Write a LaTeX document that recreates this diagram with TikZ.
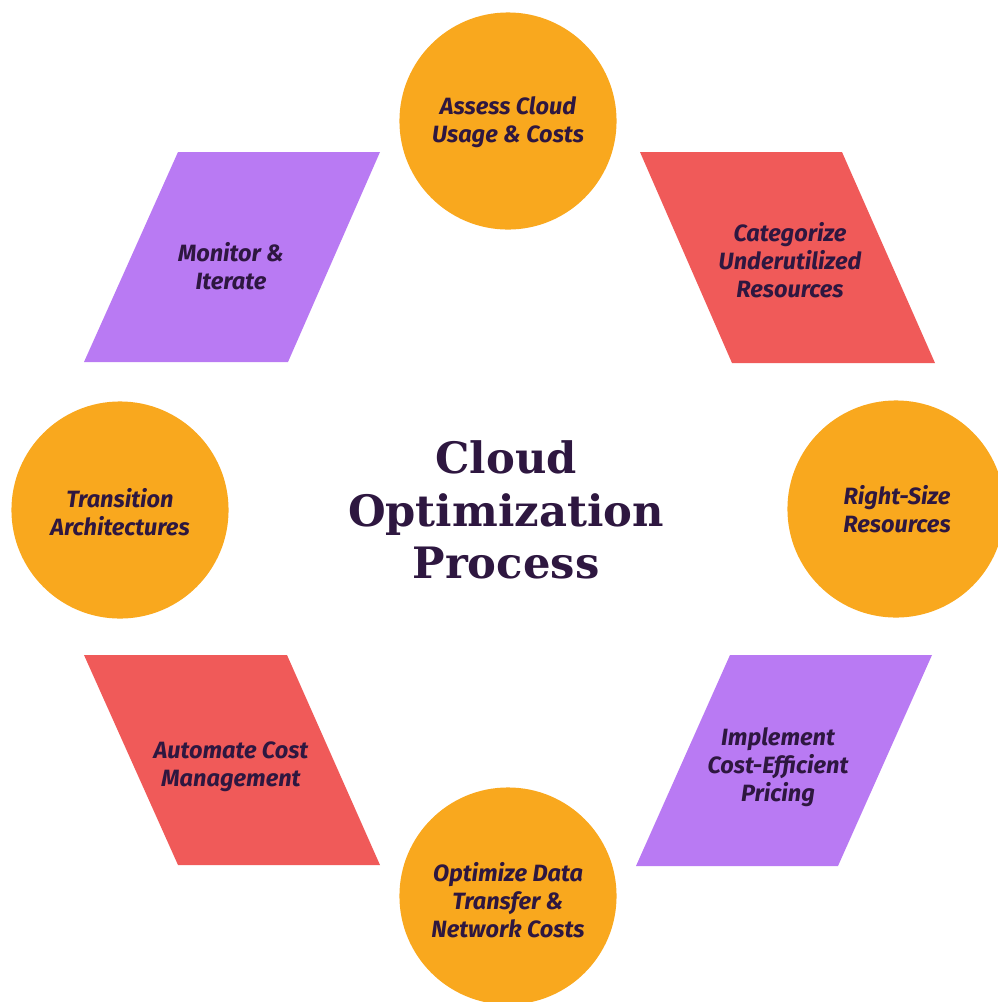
\documentclass[tikz,border=0pt]{standalone}
\usepackage{fontspec}
\setmainfont{Fira Sans}
\newfontfamily\titlefont{DejaVu Serif}
\definecolor{stageorange}{HTML}{F9A81E}
\definecolor{stagered}{HTML}{F05A59}
\definecolor{stagepurple}{HTML}{B97AF3}
\definecolor{ink}{HTML}{2E1740}

\begin{document}
\begin{tikzpicture}[x=0.01cm, y=-0.01cm,
  stagecirc/.style={circle, fill=stageorange, minimum size=2.17cm, inner sep=0pt},
  stagetext/.style={text=ink, align=center, font=\bfseries\itshape\fontsize{6.7}{7.9}\selectfont}]
\useasboundingbox (0,0) rectangle (998,1002);

\node[stagecirc] (assess) at (508,121) {};
\node[stagecirc] (rightsize) at (896,509) {};
\node[stagecirc] (optimize) at (508,896) {};
\node[stagecirc] (transition) at (120,510) {};

\fill[stagepurple] (178,152) -- (380,152) -- (288,362) -- (84,362) -- cycle;
\fill[stagered] (640,152) -- (842,152) -- (935,363) -- (732,363) -- cycle;
\fill[stagepurple] (730,655) -- (932,655) -- (838,866) -- (636,866) -- cycle;
\fill[stagered] (84,655) -- (287,655) -- (380,865) -- (178,865) -- cycle;

\node[stagetext] (assesstxt) at (508,122) {Assess Cloud\\Usage \& Costs};
\node[stagetext] (categorize) at (790,260) {Categorize\\Underutilized\\Resources};
\node[stagetext] (rightsizetxt) at (897,509) {Right-Size\\Resources};
\node[stagetext] (implement) at (778,767) {Implement\\Cost-Efficient\\Pricing};
\node[stagetext] (optimizetxt) at (508,900) {Optimize Data\\Transfer \&\\Network Costs};
\node[stagetext] (automate) at (231,767) {Automate Cost\\Management};
\node[stagetext] (transitiontxt) at (120,512) {Transition\\Architectures};
\node[stagetext] (monitor) at (231,266) {Monitor \&\\Iterate};

\node[text=ink, align=center, font=\titlefont\bfseries\fontsize{12.3}{15}\selectfont] (title) at (506,510) {Cloud\\Optimization\\Process};
\end{tikzpicture}
\end{document}
